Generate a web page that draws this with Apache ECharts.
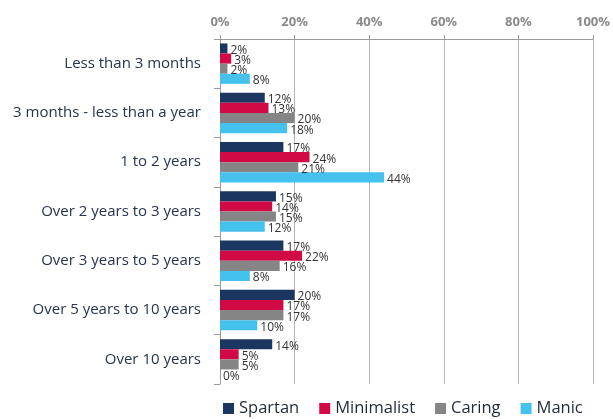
<!DOCTYPE html>
<html>
<head>
<meta charset="utf-8">
<script src="https://cdn.jsdelivr.net/npm/echarts@6/dist/echarts.min.js"></script>
<style>
  html, body { margin: 0; padding: 0; background: #fff; }
  #chart { width: 613px; height: 419px; }
</style>
</head>
<body>
<div id="chart"></div>
<script>
// Length of time categories, top to bottom
const categories = [
  'Less than 3 months',
  '3 months - less than a year',
  '1 to 2 years',
  'Over 2 years to 3 years',
  'Over 3 years to 5 years',
  'Over 5 years to 10 years',
  'Over 10 years'
];

// Share of respondents (%) per group
const spartan     = [2, 12, 17, 15, 17, 20, 14];
const minimalist  = [3, 13, 24, 14, 22, 17, 5];
const caring      = [2, 20, 21, 15, 16, 17, 5];
const manic       = [8, 18, 44, 12, 8, 10, 0];

const xTicks = [0, 20, 40, 60, 80, 100];

const seriesDefs = [
  { name: 'Spartan',    data: spartan,    color: '#1b3660' },
  { name: 'Minimalist', data: minimalist, color: '#d10a45' },
  { name: 'Caring',     data: caring,     color: '#858585' },
  { name: 'Manic',      data: manic,      color: '#45c1ee' }
];

const chart = echarts.init(document.getElementById('chart'), null, { renderer: 'canvas' });

chart.setOption({
  animation: false,
  textStyle: { fontFamily: 'Open Sans' },
  grid: { left: 220, right: 17, top: 39, bottom: 35 },
  legend: {
    bottom: -3,
    left: 218,
    itemWidth: 11,
    itemHeight: 11,
    itemGap: 20,
    icon: 'rect',
    textStyle: { fontSize: 16.5, color: '#1f2a3a', fontFamily: 'Open Sans' },
    data: seriesDefs.map(s => s.name)
  },
  xAxis: {
    type: 'value',
    position: 'top',
    min: xTicks[0],
    max: xTicks[xTicks.length - 1],
    interval: 20,
    axisLine: { show: true, lineStyle: { color: '#9a9a9a' } },
    axisTick: { show: true, length: 4, lineStyle: { color: '#9a9a9a' } },
    axisLabel: {
      formatter: v => v + '%',
      color: '#8a8a8a',
      fontSize: 13,
      fontWeight: 'bold',
      margin: 10
    },
    splitLine: { show: true, lineStyle: { color: '#b5b5b5' } }
  },
  yAxis: {
    type: 'category',
    inverse: true,
    data: categories,
    axisLine: { show: true, lineStyle: { color: '#9a9a9a' } },
    axisTick: { show: true, length: 6, lineStyle: { color: '#9a9a9a' } },
    axisLabel: { color: '#27344d', fontSize: 15, margin: 19 }
  },
  series: seriesDefs.map(s => ({
    name: s.name,
    type: 'bar',
    data: s.data,
    barGap: '0%',
    barCategoryGap: '18%',
    itemStyle: { color: s.color },
    label: {
      show: true,
      position: 'right',
      distance: 3,
      offset: [0, 2],
      formatter: p => p.value + '%',
      color: '#333',
      fontSize: 12
    }
  }))
});
</script>
</body>
</html>
